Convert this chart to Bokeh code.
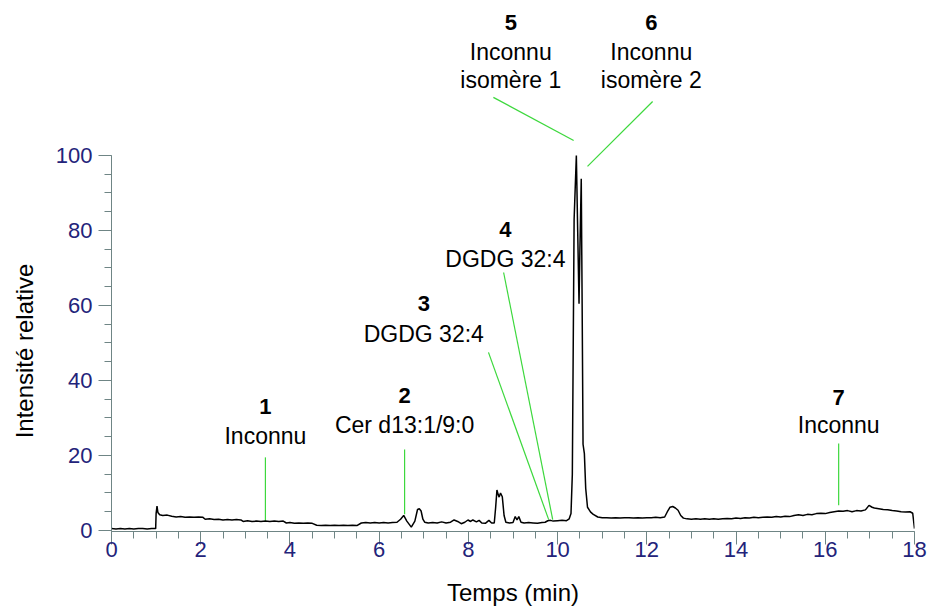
import math
from bokeh.plotting import figure
from bokeh.layouts import row
from bokeh.models import Range1d, SingleIntervalTicker, ColumnDataSource
from bokeh.core.properties import value
from bokeh.embed import file_html
from bokeh.resources import INLINE

# ---- chromatogram trace ----
temps = [0.00, 0.10, 0.20, 0.30, 0.40, 0.50, 0.60, 0.70, 0.80, 0.90, 0.99,
         1.00, 1.02, 1.04, 1.08, 1.15, 1.25, 1.35, 1.45, 1.55, 1.65, 1.75, 1.85, 1.95, 2.05,
         2.10, 2.20, 2.30, 2.40, 2.50, 2.60, 2.70, 2.80, 2.90, 2.95, 3.05, 3.15, 3.25, 3.35,
         3.45, 3.55, 3.65, 3.75, 3.85, 3.92, 4.00, 4.10, 4.20, 4.30, 4.40, 4.50, 4.60, 4.70,
         4.80, 4.90, 5.00, 5.10, 5.20, 5.30, 5.40, 5.50, 5.60, 5.70, 5.80, 5.90, 6.00, 6.10,
         6.20, 6.30, 6.40, 6.48, 6.55, 6.62, 6.72, 6.80, 6.86, 6.90, 6.94, 6.98, 7.02, 7.10,
         7.20, 7.30, 7.40, 7.50, 7.60, 7.68, 7.76, 7.84, 7.92, 7.99, 8.05, 8.10, 8.18, 8.24,
         8.30, 8.38, 8.46, 8.52, 8.58, 8.61, 8.64, 8.67, 8.69, 8.72, 8.76, 8.80, 8.84, 8.92,
         9.00, 9.05, 9.09, 9.13, 9.18, 9.25, 9.35, 9.45, 9.55, 9.65, 9.72, 9.78, 9.84, 9.90,
         10.00, 10.10, 10.20, 10.26, 10.30, 10.33, 10.37, 10.42, 10.45, 10.48, 10.50, 10.53,
         10.55, 10.57, 10.60, 10.63, 10.67, 10.74, 10.80, 10.90, 11.00, 11.10, 11.20, 11.30,
         11.40, 11.50, 11.60, 11.70, 11.80, 11.90, 12.00, 12.10, 12.20, 12.30, 12.40, 12.46,
         12.52, 12.58, 12.64, 12.70, 12.76, 12.82, 12.90, 13.00, 13.10, 13.20, 13.30, 13.40,
         13.50, 13.60, 13.70, 13.80, 13.90, 14.00, 14.10, 14.20, 14.30, 14.40, 14.50, 14.60,
         14.70, 14.80, 14.90, 15.00, 15.10, 15.20, 15.30, 15.40, 15.50, 15.60, 15.70, 15.80,
         15.90, 16.00, 16.10, 16.20, 16.30, 16.40, 16.50, 16.60, 16.70, 16.80, 16.90, 16.98,
         17.05, 17.10, 17.20, 17.30, 17.40, 17.50, 17.60, 17.70, 17.80, 17.90, 17.96, 18.00]
intensite = [0.5, 0.4, 0.5, 0.4, 0.5, 0.4, 0.5, 0.5, 0.4, 0.5, 0.5,
             4.5, 6.5, 4.8, 4.2, 4.0, 4.1, 3.8, 3.6, 3.7, 3.5, 3.6, 3.5, 3.6, 3.5,
             3.0, 3.1, 2.9, 3.0, 2.8, 2.9, 2.8, 2.9, 2.8, 2.4, 2.6, 2.4, 2.5, 2.4,
             2.5, 2.4, 2.5, 2.4, 2.5, 2.0, 2.1, 1.9, 2.0, 1.9, 2.0, 1.9, 1.4, 1.3,
             1.4, 1.3, 1.4, 1.3, 1.4, 1.3, 1.4, 1.3, 2.0, 2.1, 2.0, 2.1, 2.0, 2.1,
             2.0, 2.1, 2.2, 3.0, 4.0, 2.5, 0.9, 2.5, 5.6, 5.8, 5.2, 3.0, 2.2, 2.0,
             2.1, 2.0, 2.3, 2.0, 2.2, 2.8, 2.4, 1.8, 2.2, 2.8, 2.4, 2.8, 2.3, 2.7,
             2.0, 1.9, 2.7, 2.0, 2.0, 6.0, 10.8, 9.5, 8.9, 10.0, 9.0, 4.0, 2.2, 2.0,
             2.1, 3.7, 2.8, 3.7, 2.2, 2.0, 2.1, 2.0, 1.9, 2.1, 2.2, 2.6, 2.7, 2.5,
             2.6, 2.7, 2.6, 3.1, 4.5, 15.0, 83.0, 100.0, 80.0, 60.5, 75.0, 93.8,
             60.0, 23.0, 20.5, 11.2, 6.2, 4.9, 4.3, 3.6, 3.4, 3.4, 3.3, 3.4,
             3.3, 3.4, 3.4, 3.3, 3.4, 3.3, 3.4, 3.4, 3.5, 3.4, 3.6, 5.0,
             6.2, 6.4, 6.0, 5.4, 4.0, 3.3, 3.1, 3.0, 3.1, 3.0, 3.1, 3.0,
             3.1, 3.0, 3.1, 3.2, 3.1, 3.3, 3.2, 3.4, 3.3, 3.5, 3.4, 3.5,
             3.6, 3.5, 3.7, 3.6, 3.8, 3.7, 4.0, 4.2, 4.0, 4.3, 4.2, 4.5,
             4.6, 4.5, 4.8, 5.0, 5.2, 5.1, 5.3, 5.0, 5.3, 5.2, 5.5, 6.7,
             6.2, 6.0, 5.8, 5.6, 5.5, 5.3, 5.2, 5.0, 4.9, 5.0, 4.6, 0.5]

# ---- annotations ----
pic_num = ["1", "2", "3", "4", "5", "6", "7"]
pic_x = [3.45, 6.57, 7.00, 8.83, 8.95, 12.10, 16.30]
pic_num_y = [33.1, 36.0, 60.5, 80.3, 135.5, 135.5, 35.5]

nom_texte = ["Inconnu", "Cer d13:1/9:0", "DGDG 32:4", "DGDG 32:4",
             "Inconnu", "isomère 1", "Inconnu", "isomère 2", "Inconnu"]
nom_x = [3.45, 6.57, 7.00, 8.83, 8.95, 8.95, 12.10, 12.10, 16.30]
nom_y = [25.1, 28.0, 52.5, 72.5, 127.5, 120.0, 127.5, 120.0, 28.0]

trait_x0 = [3.45, 6.57, 8.45, 8.79, 8.56, 12.13, 16.30]
trait_y0 = [19.5, 21.6, 47.5, 68.8, 115.5, 114.4, 23.2]
trait_x1 = [3.45, 6.57, 9.80, 9.89, 10.36, 10.67, 16.30]
trait_y1 = [2.4, 4.3, 2.9, 2.9, 104.0, 97.1, 6.7]

x_ticks_interval = 2
y_ticks_interval = 20
titre_x = "Temps (min)"
titre_y = "Intensité relative"

FONT = "Liberation Sans"
NAVY = "#23237a"
AXC = "#6f8585"

Y_LO, Y_HI = -0.27, 139.2          # main frame range
PX_PER_UNIT = 523 / (Y_HI - Y_LO)
TOP_PAD, BOT_PAD = 8, 80

# ---- narrow strip holding the y-axis title, centred on the 0-100 span ----
side = figure(frame_width=40, frame_height=TOP_PAD + 523 + BOT_PAD,
              x_range=Range1d(0, 40),
              y_range=Range1d(Y_LO - BOT_PAD / PX_PER_UNIT, Y_HI + TOP_PAD / PX_PER_UNIT),
              x_axis_location=None, y_axis_location=None,
              output_backend="svg", toolbar_location=None,
              min_border_left=0, min_border_right=0, min_border_top=0, min_border_bottom=0)
side.outline_line_color = None
side.xgrid.grid_line_color = None
side.ygrid.grid_line_color = None
side.text(x=[24], y=[50], text=[titre_y], angle=math.pi / 2,
          text_font=value(FONT), text_font_size="24px", text_color="black",
          text_align="center", text_baseline="middle")

# ---- main chart ----
p = figure(frame_width=803, frame_height=523,
           x_range=Range1d(0, 18), y_range=Range1d(Y_LO, Y_HI),
           output_backend="svg", toolbar_location=None,
           min_border_left=71, min_border_right=18,
           min_border_top=TOP_PAD, min_border_bottom=BOT_PAD)
p.outline_line_color = None
p.xgrid.grid_line_color = None
p.ygrid.grid_line_color = None
p.background_fill_color = "white"
p.border_fill_color = "white"

p.xaxis.ticker = SingleIntervalTicker(interval=x_ticks_interval, num_minor_ticks=4)
p.yaxis.ticker = SingleIntervalTicker(interval=y_ticks_interval, num_minor_ticks=4)
p.yaxis.bounds = (Y_LO, 100)
p.xaxis.bounds = (0, 18)

for ax in (p.xaxis, p.yaxis):
    ax.axis_line_color = AXC
    ax.major_tick_line_color = AXC
    ax.minor_tick_line_color = AXC
    ax.major_tick_out = 13
    ax.major_tick_in = 0
    ax.minor_tick_out = 7
    ax.minor_tick_in = 0
    ax.major_label_text_font = FONT
    ax.major_label_text_font_size = "22px"
    ax.major_label_text_color = NAVY
    ax.axis_label_text_font = FONT
    ax.axis_label_text_font_size = "24px"
    ax.axis_label_text_font_style = "normal"
    ax.axis_label_text_color = "black"

p.yaxis.major_label_standoff = 6
p.xaxis.major_label_standoff = -3
p.xaxis.axis_label = titre_x
p.xaxis.axis_label_standoff = 19

# annotation lines
p.segment(x0=trait_x0, y0=trait_y0, x1=trait_x1, y1=trait_y1,
          line_color="#3dd83d", line_width=1.2)

# trace
p.line(temps, intensite, line_color="black", line_width=1.5)

src_num = ColumnDataSource(dict(x=pic_x, y=pic_num_y, t=pic_num))
p.text(x="x", y="y", text="t", source=src_num, text_font=value(FONT),
       text_font_size="22px", text_font_style="bold", text_align="center",
       text_baseline="middle", text_color="black")
src_nom = ColumnDataSource(dict(x=nom_x, y=nom_y, t=nom_texte))
p.text(x="x", y="y", text="t", source=src_nom, text_font=value(FONT),
       text_font_size="23px", text_align="center",
       text_baseline="middle", text_color="black")

layout = row(side, p, spacing=0)
open("out.html", "w").write(file_html(layout, INLINE))
